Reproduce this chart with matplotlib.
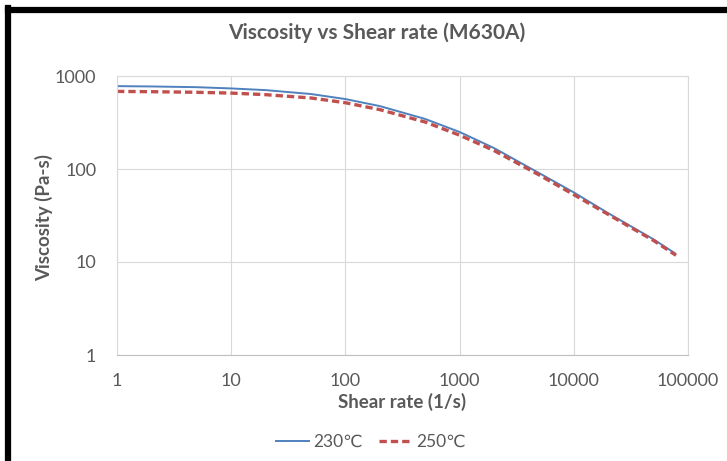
import matplotlib
matplotlib.use("Agg")
import matplotlib.pyplot as plt
from matplotlib.lines import Line2D

# shear rate (1/s) and viscosity (Pa-s) for the two melt temperatures
shear_rate = [1, 2, 5, 10, 20, 50, 100, 200, 500, 1000, 2000, 5000, 10000, 20000, 50000, 78500]
visc_230 = [778, 772, 758, 735, 705, 640, 565, 475, 345, 250, 168, 90, 56, 33.5, 17.5, 12.2]
visc_250 = [683, 678, 668, 655, 630, 580, 516, 435, 320, 231, 158, 86, 53, 32.5, 17.0, 11.8]
series_labels = ["230\u2103", "250\u2103"]
x_ticks = [1, 10, 100, 1000, 10000, 100000]
y_ticks = [1, 10, 100, 1000]

TEXT = "#595959"
GRID = "#d9d9d9"
BLUE = "#4f81bd"
RED = "#c0504d"

plt.rcParams["font.family"] = ["Lato", "DejaVu Sans"]

fig = plt.figure(figsize=(7.27, 4.61), dpi=100)
ax = fig.add_axes([117 / 727, 1 - 355 / 461, (688 - 117) / 727, (355 - 76) / 461])

ax.plot(shear_rate, visc_230, color=BLUE, lw=1.4, solid_capstyle="butt")
ax.plot(shear_rate, visc_250, color=RED, lw=2.4, ls=(0, (2.2, 1.2)), dash_capstyle="butt")

ax.set_xscale("log")
ax.set_yscale("log")
ax.set_xlim(1, 100000)
ax.set_ylim(1, 1000)
ax.set_xticks(x_ticks)
ax.set_xticklabels([str(v) for v in x_ticks])
ax.set_yticks(y_ticks)
ax.set_yticklabels([str(v) for v in y_ticks])
ax.minorticks_off()
ax.tick_params(length=0, labelsize=13, colors=TEXT, pad=13)
ax.tick_params(axis="y", pad=15)
ax.grid(True, color=GRID, lw=0.8)
for side, sp in ax.spines.items():
    sp.set_color(GRID)
    sp.set_linewidth(0.8)
ax.spines["bottom"].set_color("#bfbfbf")

ax.set_xlabel("Shear rate (1/s)", fontsize=13.5, fontweight="bold", color=TEXT, labelpad=3)
fig.text(44 / 727, 1 - 217 / 461, "Viscosity (Pa-s)", rotation=90, ha="center", va="center",
         fontsize=13.5, fontweight="bold", color=TEXT)
fig.text(377 / 727, 1 - 33 / 461, "Viscosity vs Shear rate (M630A)", ha="center", va="center",
         fontsize=15, fontweight="bold", color=TEXT)

handles = [
    Line2D([], [], color=BLUE, lw=1.4),
    Line2D([], [], color=RED, lw=2.4, ls=(0, (2.2, 1.2))),
]
fig.legend(handles, series_labels, loc="center", bbox_to_anchor=(371 / 727, 1 - 442 / 461),
           ncol=2, frameon=False, fontsize=12.5, labelcolor=TEXT, handlelength=1.9,
           handletextpad=0.25, columnspacing=0.9)

# black frame along the top and left edges
fig.add_artist(Line2D([8 / 727, 8 / 727], [0, 1 - 8 / 461], color="black", lw=4.5,
                      transform=fig.transFigure, solid_capstyle="projecting"))
fig.add_artist(Line2D([8 / 727, 1], [1 - 10 / 461, 1 - 10 / 461], color="black", lw=4.5,
                      transform=fig.transFigure, solid_capstyle="projecting"))

fig.savefig("out.png", dpi=100)
